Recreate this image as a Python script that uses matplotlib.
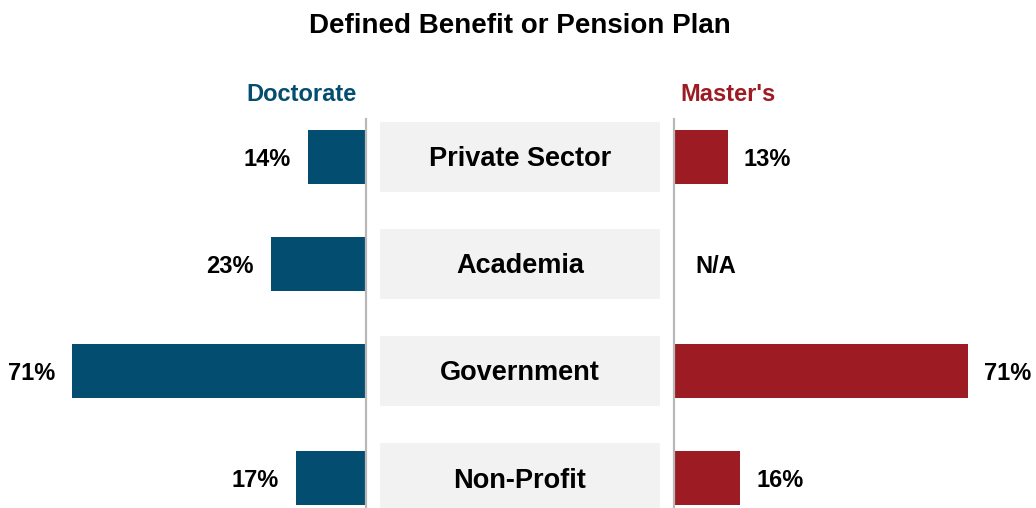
import matplotlib
matplotlib.use("Agg")
import matplotlib.pyplot as plt

# ── Data ──────────────────────────────────────────────────────────────────────
categories = ["Private Sector", "Academia", "Government", "Non-Profit"]
doctorate = [14, 23, 71, 17]
masters = [13, None, 71, 16]          # None -> N/A

title = "Defined Benefit or Pension Plan"
left_header = "Doctorate"
right_header = "Master's"

# ── Style ─────────────────────────────────────────────────────────────────────
BLUE = "#034D70"
RED = "#9D1C24"
BOX = "#F2F2F2"
LINE = "#B8B8B8"
FONT = ["Liberation Sans", "DejaVu Sans"]
NUM_SIZE = 17             # no narrow face installed, so a bit smaller

W, H = 1036, 508
PX = 4.14                 # pixels per percent
TOP, ROW = 119, 107       # plot top (px) and row pitch (px)
ROW0 = 157                # centre of first row (px)
DY = 2.5 / ROW            # nudge text down so the ink is centred

fig = plt.figure(figsize=(W / 100, H / 100), dpi=100)
fig.patch.set_facecolor("white")

hfrac = (H - TOP) / H
ax_l = fig.add_axes([0, 0, 366 / W, hfrac])
ax_c = fig.add_axes([380 / W, 0, 280 / W, hfrac])
ax_r = fig.add_axes([674 / W, 0, 362 / W, hfrac])

ypos = list(range(len(categories)))
ylim = (len(categories) - 1 + (H - (ROW0 + ROW * 3)) / ROW, -(ROW0 - TOP) / ROW)

for ax in (ax_l, ax_c, ax_r):
    ax.set_ylim(*ylim)
    ax.axis("off")

ax_l.set_xlim(366 / PX, 0)
ax_r.set_xlim(0, 362 / PX)
ax_c.set_xlim(0, 1)

# left bars
ax_l.barh(ypos, doctorate, height=0.5, color=BLUE)
ax_l.axvline(0, color=LINE, lw=1.6, clip_on=False, zorder=3)
for y, v in zip(ypos, doctorate):
    ax_l.text(v + 17 / PX, y + DY, f"{v}%", ha="right", va="center",
              fontsize=NUM_SIZE, fontweight="bold", family=FONT)

# right bars
r_vals = [v if v is not None else 0 for v in masters]
ax_r.barh(ypos, r_vals, height=0.5, color=RED)
ax_r.axvline(0, color=LINE, lw=1.6, clip_on=False, zorder=3)
for y, v in zip(ypos, masters):
    if v is None:
        ax_r.text(21 / PX, y + DY, "N/A", ha="left", va="center",
                  fontsize=NUM_SIZE, fontweight="bold", family=FONT)
    else:
        ax_r.text(v + 16 / PX, y + DY, f"{v}%", ha="left", va="center",
                  fontsize=NUM_SIZE, fontweight="bold", family=FONT)

# centre category boxes
ax_c.barh(ypos, [1] * len(ypos), height=0.645, color=BOX)
for y, c in zip(ypos, categories):
    ax_c.text(0.5, y + DY, c, ha="center", va="center",
              fontsize=19.5, fontweight="bold", family=FONT)

# headers
ax_l.text(9 / PX, (92.5 - ROW0) / ROW + DY, left_header, ha="right", va="center",
          fontsize=NUM_SIZE, fontweight="bold", color=BLUE, family=FONT)
ax_r.text(6 / PX, (92.5 - ROW0) / ROW + DY, right_header, ha="left", va="center",
          fontsize=NUM_SIZE, fontweight="bold", color=RED, family=FONT)

fig.text(520 / W, 1 - 26 / H, title, ha="center", va="center",
         fontsize=20, fontweight="bold", family=FONT)

fig.savefig("out.png", dpi=100)
